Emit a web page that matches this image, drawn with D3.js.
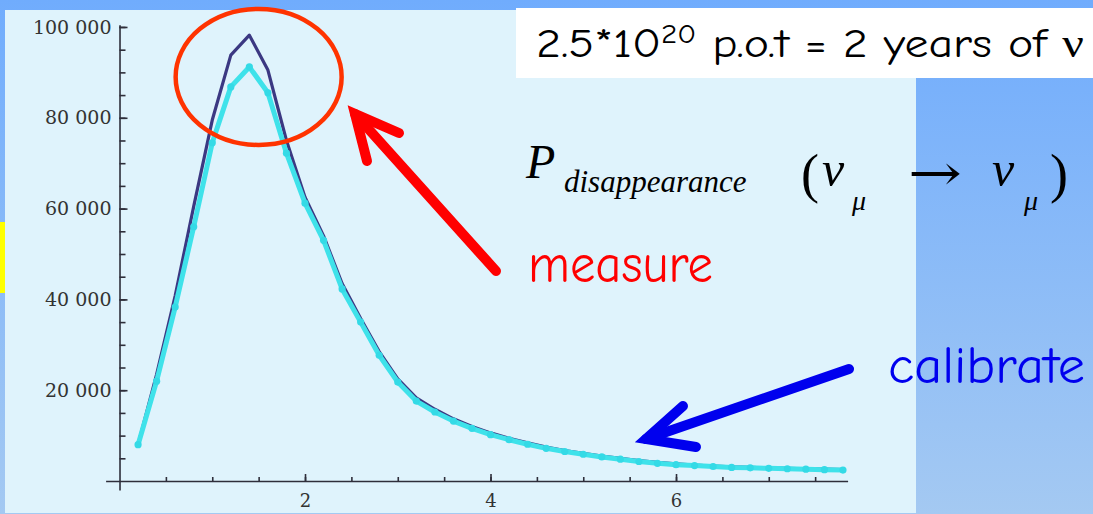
<!DOCTYPE html>
<html>
<head>
<meta charset="utf-8">
<script src="https://cdn.jsdelivr.net/npm/d3@7"></script>
<style>
  html, body { margin: 0; padding: 0; background: #fff; }
  svg { display: block; }
</style>
</head>
<body>
<div id="chart"></div>
<script>
// energy bins (GeV) and event counts
var energy = [0.2, 0.4, 0.6, 0.8, 1.0, 1.2, 1.4, 1.6, 1.8, 2.0,
              2.2, 2.4, 2.6, 2.8, 3.0, 3.2, 3.4, 3.6, 3.8, 4.0,
              4.2, 4.4, 4.6, 4.8, 5.0, 5.2, 5.4, 5.6, 5.8, 6.0,
              6.2, 6.4, 6.6, 6.8, 7.0, 7.2, 7.4, 7.6, 7.8];

// no oscillation (dark line)
var noOsc = [8000, 23500, 40800, 60500, 79500, 93800, 98200, 90500, 75000, 62500,
             54000, 43500, 35800, 28500, 22500, 18300, 15800, 13700, 12000, 10600,
             9400, 8400, 7500, 6700, 6100, 5500, 5000, 4500, 4100, 3800,
             3500, 3300, 3100, 3000, 2900, 2800, 2700, 2600, 2500];

// with disappearance (cyan, dots)
var withOsc = [8000, 22000, 38300, 56000, 74500, 86800, 91200, 85500, 72200, 61200,
               53000, 42300, 35000, 27700, 21800, 17600, 15200, 13200, 11600, 10200,
               9100, 8100, 7200, 6500, 5900, 5300, 4800, 4300, 3900, 3600,
               3400, 3200, 3000, 2900, 2800, 2700, 2600, 2500, 2400];

var yTicks = [20000, 40000, 60000, 80000, 100000];
var xTicks = [2, 4, 6];

var W = 1093, H = 514;

var svg = d3.select("#chart").append("svg")
    .attr("width", W)
    .attr("height", H);

var defs = svg.append("defs");
var bg = defs.append("linearGradient").attr("id", "bgGrad")
    .attr("x1", 0).attr("y1", 0).attr("x2", 0).attr("y2", 1);
bg.append("stop").attr("offset", "0%").attr("stop-color", "#70acfd");
bg.append("stop").attr("offset", "100%").attr("stop-color", "#a4c9f2");

svg.append("rect").attr("width", W).attr("height", H).attr("fill", "url(#bgGrad)");

// light plot panel
svg.append("rect")
    .attr("x", 5).attr("y", 10)
    .attr("width", 911).attr("height", 503)
    .attr("fill", "#dff3fc");

// yellow strip at the left edge
svg.append("rect")
    .attr("x", 0).attr("y", 222)
    .attr("width", 5).attr("height", 71)
    .attr("fill", "#ffff00");

// scales
var x = d3.scaleLinear().domain([-0.15, 7.85]).range([105.6, 847.6]);
var y = d3.scaleLinear().domain([-2000, 100500]).range([490.1, 24.7]);

var fmt = function(d) { return d3.format(",")(d).replace(/,/g, " "); };

var axisFont = "'DejaVu Serif', serif";

// minor ticks
svg.append("g")
    .attr("class", "y minor")
    .attr("transform", "translate(" + x(0) + ",0)")
    .call(d3.axisLeft(y).tickValues(d3.range(5000, 100001, 5000)).tickSize(-6).tickFormat(""))
    .call(function(g) { g.select(".domain").remove(); });

svg.append("g")
    .attr("class", "x minor")
    .attr("transform", "translate(0," + y(0) + ")")
    .call(d3.axisBottom(x).tickValues(d3.range(0.5, 7.6, 0.5)).tickSize(-4).tickFormat(""))
    .call(function(g) { g.select(".domain").remove(); });

// major axes
svg.append("g")
    .attr("class", "y axis")
    .attr("transform", "translate(" + x(0) + ",0)")
    .call(d3.axisLeft(y).tickValues(yTicks).tickSizeInner(-8).tickSizeOuter(0).tickPadding(8).tickFormat(fmt));

svg.append("g")
    .attr("class", "x axis")
    .attr("transform", "translate(0," + y(0) + ")")
    .call(d3.axisBottom(x).tickValues(xTicks).tickSizeInner(-7).tickSizeOuter(0).tickPadding(13).tickFormat(d3.format("d")));

svg.selectAll(".axis path, .axis line, .minor line")
    .attr("stroke", "#2e2e3a")
    .attr("stroke-width", 1.6);

svg.selectAll(".axis text")
    .attr("fill", "#333333")
    .style("font-family", axisFont)
    .style("font-size", "19px");

svg.selectAll(".x.axis text").style("font-size", "18px");

// curves
var line = d3.line()
    .x(function(d) { return x(d[0]); })
    .y(function(d) { return y(d[1]); });

var noOscData = energy.map(function(e, i) { return [e, noOsc[i]]; });
var withOscData = energy.map(function(e, i) { return [e, withOsc[i]]; });

svg.append("path")
    .datum(noOscData)
    .attr("fill", "none")
    .attr("stroke", "#3b3882")
    .attr("stroke-width", 3.2)
    .attr("stroke-linejoin", "round")
    .attr("d", line);

svg.append("path")
    .datum(withOscData)
    .attr("fill", "none")
    .attr("stroke", "#3fe2ea")
    .attr("stroke-width", 5)
    .attr("stroke-linejoin", "round")
    .attr("d", line);

svg.selectAll(".dot")
    .data(withOscData)
    .enter().append("circle")
    .attr("class", "dot")
    .attr("r", 3.6)
    .attr("fill", "#34dae6")
    .attr("cx", function(d) { return x(d[0]); })
    .attr("cy", function(d) { return y(d[1]); });

// red ellipse round the peak
svg.append("ellipse")
    .attr("cx", x(1.5)).attr("cy", y(89000))
    .attr("rx", 83).attr("ry", 68)
    .attr("fill", "none")
    .attr("stroke", "#ff3300")
    .attr("stroke-width", 4.5);

// arrows
function arrow(pts, color) {
    svg.append("path")
        .attr("d", d3.line()(pts))
        .attr("fill", "none")
        .attr("stroke", color)
        .attr("stroke-width", 10)
        .attr("stroke-linecap", "round")
        .attr("stroke-linejoin", "miter");
}
arrow([[496, 271], [355, 114]], "#ff0000");
arrow([[399, 133], [355, 114], [367, 161]], "#ff0000");
arrow([[849, 369], [646, 439]], "#0000ee");
arrow([[683, 406], [646, 439], [696, 447]], "#0000ee");

// white title box
svg.append("rect")
    .attr("x", 516).attr("y", 8)
    .attr("width", 577).attr("height", 70)
    .attr("fill", "#ffffff");

var handFont = "'Comic Sans MS', 'Comic Neue', Lato, sans-serif";

var title = svg.append("text")
    .attr("x", 536).attr("y", 57)
    .attr("fill", "#000")
    .attr("textLength", 548).attr("lengthAdjust", "spacingAndGlyphs")
    .style("font-family", handFont)
    .style("font-size", "40px");
title.append("tspan").text("2.5*10");
title.append("tspan").attr("dy", -14).style("font-size", "26px").text("20");
title.append("tspan").attr("dy", 14).text(" p.o.t = 2 years of ");
title.append("tspan").style("font-family", "'Liberation Serif', serif").text("ν");

svg.append("text")
    .attr("x", 528).attr("y", 282)
    .attr("fill", "#ff0000")
    .attr("textLength", 185).attr("lengthAdjust", "spacingAndGlyphs")
    .style("font-family", handFont)
    .style("font-size", "54px")
    .text("measure");

svg.append("text")
    .attr("x", 888).attr("y", 383)
    .attr("fill", "#0000ee")
    .attr("textLength", 197).attr("lengthAdjust", "spacingAndGlyphs")
    .style("font-family", handFont)
    .style("font-size", "52px")
    .text("calibrate");

// P_disappearance (nu_mu -> nu_mu)
var serif = "'Liberation Serif', 'Times New Roman', serif";
function mathText(tx, ty, size, str, italic, fam) {
    return svg.append("text")
        .attr("x", tx).attr("y", ty)
        .attr("fill", "#000")
        .style("font-family", fam || serif)
        .style("font-style", italic ? "italic" : "normal")
        .style("font-size", size + "px")
        .text(str);
}
mathText(526, 178, 48, "P", true);
mathText(564, 192, 31, "disappearance", true);
mathText(801, 192, 54, "(", false);
mathText(822, 186, 50, "ν", true);
mathText(852, 210, 28, "μ", true);
mathText(908, 190, 50, "→", false, "'DejaVu Serif', serif")
    .attr("textLength", 54).attr("lengthAdjust", "spacingAndGlyphs");
mathText(992, 186, 50, "ν", true);
mathText(1024, 210, 28, "μ", true);
mathText(1050, 192, 54, ")", false);
</script>
</body>
</html>
